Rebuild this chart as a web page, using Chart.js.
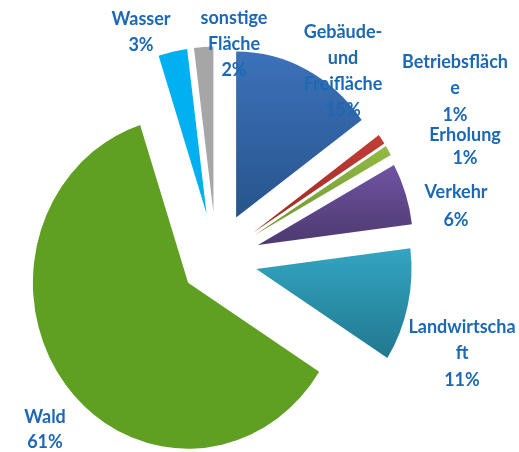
<!DOCTYPE html>
<html lang="de">
<head>
    <meta charset="UTF-8">
    <title>Flächennutzung</title>
    <script src="https://cdn.jsdelivr.net/npm/chart.js@4/dist/chart.umd.min.js"></script>
    <style>
        html, body { margin: 0; padding: 0; background: #fff; }
        #wrap { width: 519px; height: 452px; }
    </style>
</head>
<body>
    <div id="wrap"><canvas id="pie" width="519" height="452"></canvas></div>
    <script>
        // Daten
        const categories = ['Gebäude- und Freifläche', 'Betriebsfläche', 'Erholung', 'Verkehr',
                            'Landwirtschaft', 'Wald', 'Wasser', 'sonstige Fläche'];
        const shares = [15, 1, 1, 6, 11, 61, 3, 2];
        // Beschriftung so umgebrochen wie im Original
        const labelLines = [
            ['Gebäude-', 'und', 'Freifläche'],
            ['Betriebsfläch', 'e'],
            ['Erholung'],
            ['Verkehr'],
            ['Landwirtscha', 'ft'],
            ['Wald'],
            ['Wasser'],
            ['sonstige', 'Fläche']
        ];

        // Darstellung
        const fills = [
            ['#3C72BA', '#27548C'],
            ['#C23D36', '#9C2A26'],
            ['#93BA45', '#719630'],
            ['#7053A3', '#4D396F'],
            ['#33A5C2', '#21788F'],
            ['#5FA022', '#5FA022'],
            ['#00B0F0', '#00B0F0'],
            ['#A6A6A6', '#A6A6A6']
        ];
        const explode = [47, 48, 48, 47, 44, 38, 47, 47];
        const SQUASH = 0.935;   // Kreis ist im Original leicht gestaucht
        const RADIUS = 166;
        const labelPos = [
            { x: 343, y: 32, step: 26 },
            { x: 455, y: 62, step: 26.5 },
            { x: 465, y: 135, step: 23 },
            { x: 456, y: 192, step: 28 },
            { x: 462, y: 327, step: 26.5 },
            { x: 45, y: 417, step: 25 },
            { x: 141, y: 19, step: 26 },
            { x: 234, y: 18, step: 26 }
        ];

        const total = shares.reduce((a, b) => a + b, 0);

        function sliceGeom(chart, i) {
            const area = chart.chartArea;
            let acc = 0;
            for (let j = 0; j < i; j++) acc += shares[j];
            const a0 = -Math.PI / 2 + acc / total * Math.PI * 2;
            const a1 = a0 + shares[i] / total * Math.PI * 2;
            const mid = (a0 + a1) / 2;
            const cx = (area.left + area.right) / 2 + Math.cos(mid) * explode[i];
            const cy = (area.top + area.bottom) / 2 + Math.sin(mid) * explode[i];
            return { a0, a1, mid, cx, cy };
        }

        function sliceFill(context) {
            const chart = context.chart;
            const i = context.dataIndex;
            if (i === undefined || !chart.chartArea) return fills[0][0];
            const g = sliceGeom(chart, i);
            const ys = [g.cy, g.cy + RADIUS * Math.sin(g.a0), g.cy + RADIUS * Math.sin(g.a1)];
            if (g.a0 <= -Math.PI / 2 && g.a1 >= -Math.PI / 2) ys.push(g.cy - RADIUS);
            if (g.a0 <= Math.PI / 2 && g.a1 >= Math.PI / 2) ys.push(g.cy + RADIUS);
            if (g.a0 <= Math.PI * 1.5 && g.a1 >= Math.PI * 1.5) ys.push(g.cy - RADIUS);
            const grad = chart.ctx.createLinearGradient(0, Math.min(...ys), 0, Math.max(...ys));
            grad.addColorStop(0, fills[i][0]);
            grad.addColorStop(1, fills[i][1]);
            return grad;
        }

        const explodePlugin = {
            id: 'explode',
            beforeDatasetsDraw(chart) {
                const meta = chart.getDatasetMeta(0);
                meta.data.forEach((arc, i) => {
                    const g = sliceGeom(chart, i);
                    arc.x = g.cx;
                    arc.y = g.cy;
                });
                chart.ctx.save();
                chart.ctx.scale(SQUASH, 1);
            },
            afterDatasetsDraw(chart) {
                const ctx = chart.ctx;
                ctx.restore();
                ctx.save();
                ctx.fillStyle = '#1C68B4';
                ctx.font = 'bold 18px Lato';
                ctx.textAlign = 'center';
                ctx.textBaseline = 'middle';
                labelLines.forEach((lines, i) => {
                    const p = labelPos[i];
                    const all = lines.concat([shares[i] + '%']);
                    all.forEach((t, k) => ctx.fillText(t, p.x, p.y + k * p.step));
                });
                ctx.restore();
            }
        };

        // Mittelpunkt (216, 259.5) im Bild -> Innenabstand
        const cxTarget = 231.2, cyTarget = 259.5;
        new Chart(document.getElementById('pie'), {
            type: 'pie',
            data: {
                labels: categories,
                datasets: [{
                    data: shares,
                    backgroundColor: sliceFill,
                    borderWidth: 0,
                    radius: RADIUS,
                    clip: false
                }]
            },
            options: {
                responsive: false,
                animation: false,
                layout: {
                    padding: {
                        left: 0,
                        right: 519 - 2 * cxTarget,
                        top: 2 * cyTarget - 452,
                        bottom: 0
                    }
                },
                plugins: {
                    legend: { display: false },
                    tooltip: { enabled: false }
                }
            },
            plugins: [explodePlugin]
        });
    </script>
</body>
</html>
